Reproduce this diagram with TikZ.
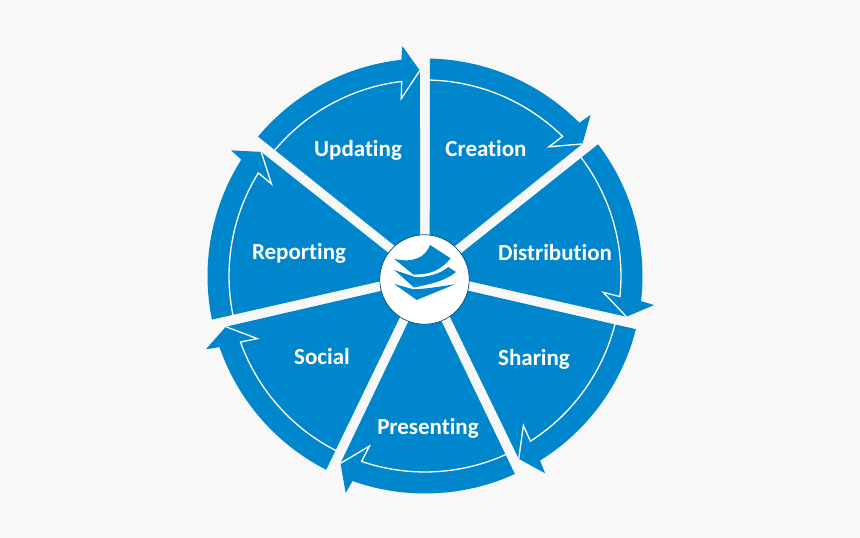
\documentclass[tikz,border=0pt]{standalone}
\usepackage{fontspec}
\setmainfont{Carlito}[Ligatures=NoCommon]
\definecolor{wheelblue}{HTML}{0086CC}
\definecolor{pagegray}{HTML}{F8F8F8}
\tikzset{
    wheel/.style={fill=wheelblue},
    rim/.style={draw=white, line width=1.3pt, line join=miter},
    label/.style={text=white, font=\fontsize{23}{26}\selectfont\bfseries, inner sep=0pt},
    hub/.style={circle, draw=wheelblue!60!black, line width=0.7pt, fill=white, minimum size=89.5pt, inner sep=0pt}
}
\begin{document}
\begin{tikzpicture}[x=1pt, y=1pt]
            \fill[pagegray] (-425, -262) rectangle (435, 276);
            \useasboundingbox (-425, -262) rectangle (435, 276);

            \foreach \k in {0, ..., 6} {
                \begin{scope}[rotate=-360/7*\k]
                    \fill[wheel] (88.7:217.5) arc[start angle=88.7, end angle=44.8, radius=217.5]
                        -- (44.2:231) -- (40:205.5) -- (64.285:10.8) -- cycle;
                    \draw[rim] (88.7:196) arc[start angle=88.7, end angle=45.4, radius=196]
                        -- (46.2:179) -- (40:205.5);
                \end{scope}
            }

            \node[hub] (center) at (-0.5, -3.5) {};

            \node[label] (creation) at (61, 127.5) {Creation};
            \node[label] (distribution) at (130, 23) {Distribution};
            \node[label] (sharing) at (109, -83) {Sharing};
            \node[label] (presenting) at (3, -152) {Presenting};
            \node[label] (social) at (-103, -81) {Social};
            \node[label] (reporting) at (-126, 23) {Reporting};
            \node[label] (updating) at (-67, 126) {Updating};

            % paper stack
            \fill[wheelblue] (-30.7, -8) -- (-11.7, -13.3) .. controls (0, -13) and (12, -11) .. (30, -8.3) -- (-8.3, -24) -- cycle;
            \fill[wheelblue] (-30.7, 6) -- (-10, -1) .. controls (2, -1.5) and (15, 2) .. (23.3, 9) -- (31, 4)
                .. controls (20, -5) and (6, -8) .. (-11, -11.5) -- cycle;
            \fill[wheelblue] (-30.7, 17) .. controls (-12, 13) and (0, 18) .. (5, 31) -- (25.7, 17.7)
                .. controls (16, 6) and (5, 1) .. (-11.7, 1.5) -- cycle;
        \end{tikzpicture}
\end{document}
